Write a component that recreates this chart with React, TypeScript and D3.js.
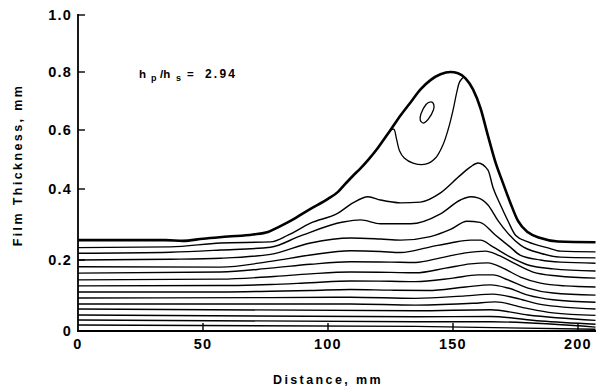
import React from "react";
import * as d3 from "d3";

// ---- data (distance mm, film thickness mm) ----
const xTicks = [0, 50, 100, 150, 200];
const yTicks = [0, 0.2, 0.4, 0.6, 0.8, 1.0];
const xTickLabels = ["0", "50", "100", "150", "200"];
const yTickLabels = ["0", "0.2", "0.4", "0.6", "0.8", "1.0"];

// free surface (thick curve)
const surface: [number, number][] = [
  [0, 0.256], [20, 0.256], [35, 0.256], [42, 0.254], [50, 0.26], [60, 0.266], [70, 0.272],
  [76, 0.279], [80, 0.292], [85, 0.31], [93, 0.344], [100, 0.372], [104, 0.392], [107, 0.418],
  [110, 0.445], [113, 0.47], [116, 0.498], [120, 0.54], [125, 0.6], [129, 0.65], [133, 0.695],
  [137, 0.74], [141, 0.772], [145, 0.792], [149, 0.8], [152, 0.796], [155, 0.778], [158, 0.74],
  [161, 0.675], [164, 0.58], [167, 0.49], [170, 0.42], [173, 0.36], [176, 0.31], [180, 0.278],
  [185, 0.262], [192, 0.252], [207, 0.25],
];

// recirculation streamline inside the bump
const loopLine: [number, number][] = [
  [124.6, 0.597], [126.3, 0.603], [127.4, 0.57], [128.6, 0.53], [130.5, 0.505], [134, 0.488],
  [139, 0.484], [143, 0.505], [146, 0.55], [148, 0.6], [150, 0.668], [151.5, 0.73],
  [152.6, 0.765], [154, 0.781],
];

// small closed eddy
const eddy: [number, number][] = [
  [141.2, 0.697], [142.3, 0.688], [142.2, 0.67], [140.2, 0.638], [138.2, 0.624],
  [136.9, 0.634], [137.2, 0.656], [139.2, 0.688],
];

const stream1: [number, number][] = [
  [0, 0.235], [37, 0.237], [57, 0.248], [77, 0.251], [84, 0.27], [93, 0.304], [104, 0.332],
  [110, 0.361], [116, 0.378], [121, 0.369], [129, 0.361], [137, 0.363], [145, 0.389],
  [153, 0.447], [157, 0.475], [160, 0.488], [164, 0.464], [166, 0.405], [169, 0.355],
  [172, 0.31], [175, 0.27], [180, 0.251], [188, 0.234], [193, 0.225], [207, 0.223],
];
const stream2: [number, number][] = [
  [0, 0.219], [37, 0.222], [57, 0.228], [77, 0.236], [89, 0.268], [106, 0.307], [113, 0.313],
  [121, 0.302], [133, 0.302], [145, 0.33], [153, 0.369], [157, 0.378], [160, 0.375],
  [164, 0.355], [168, 0.311], [172, 0.275], [177, 0.242], [185, 0.219], [193, 0.208], [207, 0.206],
];
const stream3: [number, number][] = [
  [0, 0.2], [37, 0.202], [57, 0.205], [77, 0.216], [93, 0.248], [109, 0.262], [121, 0.259],
  [129, 0.256], [141, 0.266], [149, 0.286], [155.6, 0.309], [160.8, 0.306], [166.8, 0.271],
  [172.8, 0.237], [176.8, 0.214], [185, 0.2], [193, 0.194], [207, 0.191],
];
const stream4: [number, number][] = [
  [0, 0.181], [57, 0.18], [77, 0.196], [93, 0.214], [109, 0.226], [121, 0.224], [129, 0.221],
  [141, 0.237], [149, 0.248], [157, 0.256], [161, 0.256], [166, 0.237], [173, 0.208],
  [180, 0.186], [190, 0.175], [207, 0.169],
];
const stream5: [number, number][] = [
  [0, 0.163], [57, 0.166], [77, 0.177], [93, 0.188], [109, 0.195], [125, 0.194], [135, 0.193],
  [145, 0.206], [155, 0.22], [163, 0.225], [168, 0.214], [175, 0.189], [182, 0.166],
  [192, 0.155], [207, 0.149],
];
const stream6: [number, number][] = [
  [0, 0.144], [57, 0.146], [77, 0.153], [93, 0.161], [109, 0.166], [125, 0.165], [135, 0.164],
  [147, 0.177], [157, 0.189], [164, 0.192], [170, 0.177], [177, 0.152], [185, 0.135],
  [195, 0.127], [207, 0.124],
];
const stream7: [number, number][] = [
  [0, 0.127], [57, 0.128], [77, 0.131], [93, 0.136], [109, 0.141], [125, 0.14], [135, 0.139],
  [150, 0.149], [160, 0.158], [166, 0.158], [172, 0.144], [180, 0.121], [190, 0.107], [207, 0.101],
];
const stream8: [number, number][] = [
  [0, 0.11], [57, 0.11], [77, 0.112], [93, 0.114], [109, 0.117], [125, 0.115], [140, 0.114],
  [155, 0.124], [165, 0.13], [172, 0.121], [180, 0.101], [190, 0.088], [207, 0.081],
];
const stream9: [number, number][] = [
  [0, 0.093], [77, 0.094], [109, 0.095], [135, 0.092], [155, 0.099], [166, 0.104], [175, 0.093],
  [185, 0.075], [207, 0.062],
];
const stream10: [number, number][] = [
  [0, 0.076], [109, 0.076], [135, 0.073], [158, 0.078], [167, 0.082], [178, 0.066], [190, 0.051],
  [207, 0.044],
];
const stream11: [number, number][] = [
  [0, 0.062], [135, 0.057], [165, 0.06], [180, 0.045], [207, 0.03],
];
const stream12: [number, number][] = [
  [0, 0.045], [135, 0.04], [165, 0.041], [185, 0.028], [207, 0.019],
];
const stream13: [number, number][] = [
  [0, 0.031], [135, 0.026], [165, 0.026], [207, 0.011],
];
const stream14: [number, number][] = [
  [0, 0.017], [135, 0.013], [207, 0.005],
];

const streamlines = [
  stream1, stream2, stream3, stream4, stream5, stream6, stream7,
  stream8, stream9, stream10, stream11, stream12, stream13, stream14,
];

const annotationRatio = "2.94";

export default function App() {
  const W = 596;
  const H = 387;
  const x = d3.scaleLinear().domain([0, 207]).range([78, 595.5]);
  // the printed axis is slightly non-uniform; use a piecewise scale
  const y = d3.scaleLinear().domain(yTicks).range([331, 260, 189, 130, 72, 15]);

  const line = d3
    .line<[number, number]>()
    .x((d) => x(d[0]))
    .y((d) => y(d[1]))
    .curve(d3.curveMonotoneX);
  const loopGen = d3
    .line<[number, number]>()
    .x((d) => x(d[0]))
    .y((d) => y(d[1]))
    .curve(d3.curveCatmullRom.alpha(0.5));
  const eddyGen = d3
    .line<[number, number]>()
    .x((d) => x(d[0]))
    .y((d) => y(d[1]))
    .curve(d3.curveCardinalClosed.tension(0.2));

  const font = "'Liberation Sans', Arial, Helvetica, sans-serif";
  const x0 = x(0);
  const yBase = y(0);

  return (
    <svg
      width={W}
      height={H}
      style={{ position: "absolute", left: 0, top: 0, background: "#fff" }}
      fontFamily={font}
      fontWeight="bold"
    >
      <rect x={0} y={0} width={W} height={H} fill="#fff" />
      {/* streamlines */}
      {streamlines.map((s, i) => (
        <path key={i} d={line(s) || ""} fill="none" stroke="#000" strokeWidth={1.4} />
      ))}
      <path d={loopGen(loopLine) || ""} fill="none" stroke="#000" strokeWidth={1.3} />
      <path d={eddyGen(eddy) || ""} fill="none" stroke="#000" strokeWidth={1.3} />
      <path d={line(surface) || ""} fill="none" stroke="#000" strokeWidth={2.6} />

      {/* axes */}
      <line x1={x0} x2={x0} y1={y(1.0) - 1} y2={yBase + 1} stroke="#000" strokeWidth={1.8} />
      <line x1={x0 - 1} x2={W} y1={yBase} y2={yBase} stroke="#000" strokeWidth={1.8} />
      {yTicks.map((t, i) => (
        <g key={"y" + i}>
          {t > 0 && (
            <line x1={x0} x2={x0 + 7} y1={y(t)} y2={y(t)} stroke="#000" strokeWidth={1.4} />
          )}
          <text
            x={x0 - 6}
            y={y(t)}
            textAnchor="end"
            dominantBaseline="central"
            fontSize={14.5}
            letterSpacing={1.2}
          >
            {yTickLabels[i]}
          </text>
        </g>
      ))}
      {xTicks.map((t, i) => (
        <g key={"x" + i}>
          {t > 0 && (
            <line x1={x(t)} x2={x(t)} y1={yBase} y2={yBase - 8} stroke="#000" strokeWidth={1.4} />
          )}
          <text x={x(t)} y={349} textAnchor="middle" fontSize={14.5} letterSpacing={1.2}>
            {xTickLabels[i]}
          </text>
        </g>
      ))}

      {/* axis titles */}
      <text x={328} y={384} textAnchor="middle" fontSize={12.5} letterSpacing={2.4}>
        Distance, mm
      </text>
      <text
        transform={`translate(22,165) rotate(-90)`}
        textAnchor="middle"
        fontSize={12.5}
        letterSpacing={2.4}
      >
        Film Thickness, mm
      </text>

      {/* annotation */}
      <text y={78} fontSize={11.5}>
        <tspan x={139}>h</tspan>
        <tspan x={151} y={81} fontSize={9}>p</tspan>
        <tspan x={160} y={78}>/h</tspan>
        <tspan x={176} y={81} fontSize={9}>s</tspan>
        <tspan x={187} y={78}>=</tspan>
        <tspan x={205} y={78} fontSize={12} letterSpacing={2.2}>{annotationRatio}</tspan>
      </text>
    </svg>
  );
}
